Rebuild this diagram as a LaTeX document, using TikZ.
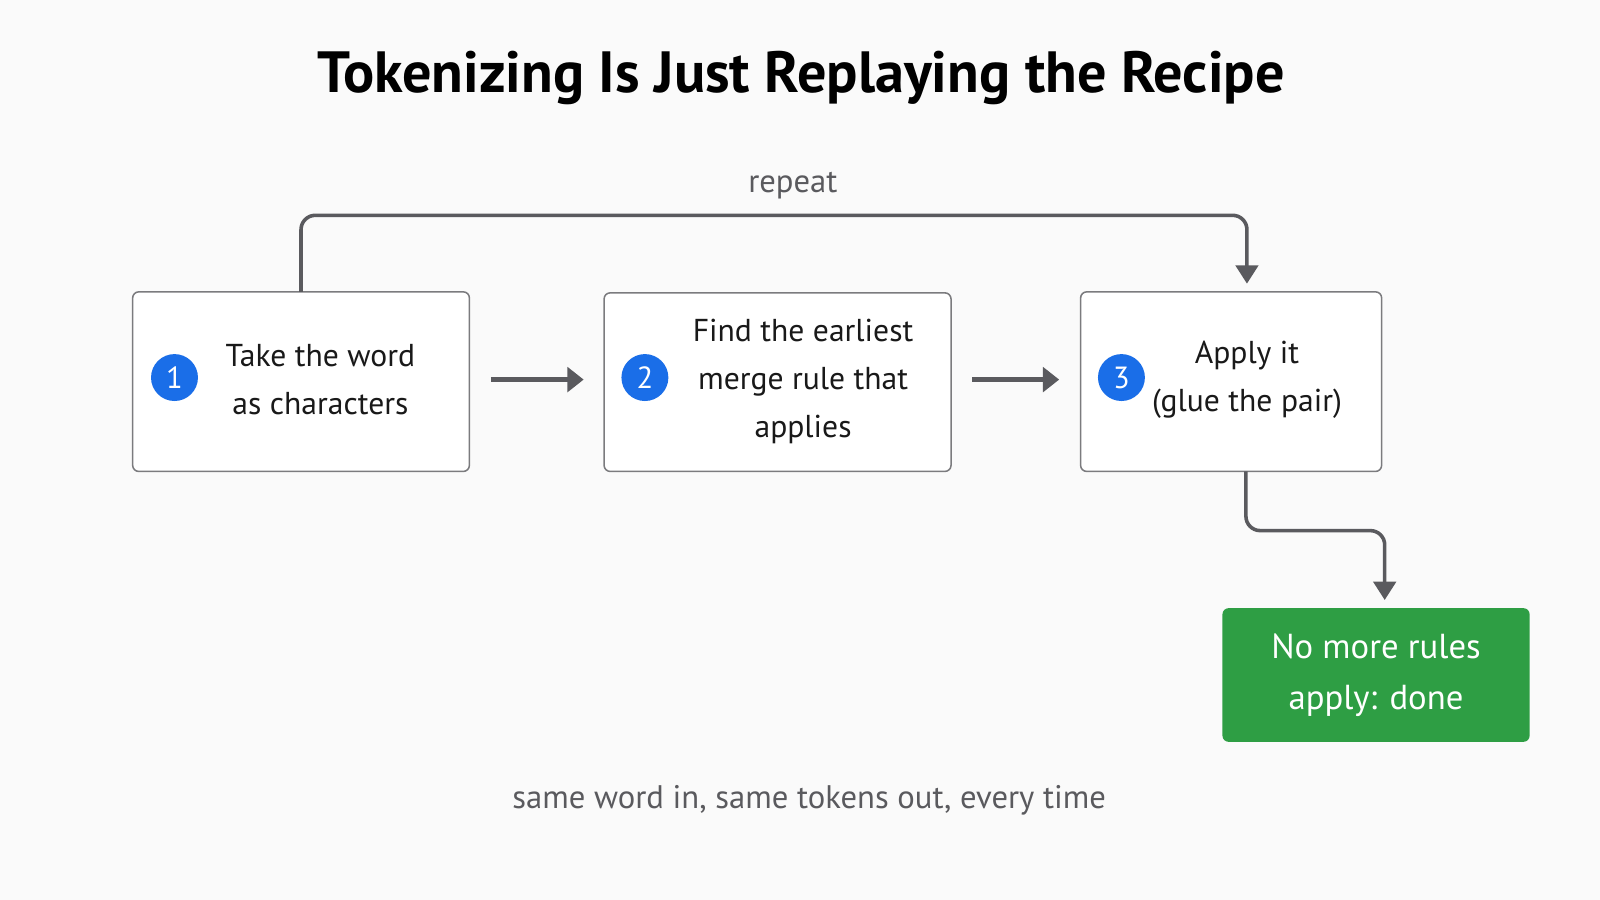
\documentclass[tikz,border=0pt]{standalone}
\usepackage{fontspec}
\setmainfont{PT Sans}
\usetikzlibrary{arrows.meta}
\definecolor{ln}{HTML}{5A5A5E}
\definecolor{bl}{HTML}{1A6EE8}
\definecolor{gr}{HTML}{2E9E44}
\begin{document}
\begin{tikzpicture}[x=1pt,y=-1pt,
 box/.style={draw=ln!80,line width=1.5pt,rounded corners=6pt,fill=white},
 txt/.style={align=center,font=\fontsize{31}{47}\selectfont,text=black!90},
 num/.style={circle,fill=bl,minimum size=46pt,inner sep=0pt,text=white,font=\fontsize{30}{30}\selectfont},
 arr/.style={draw=ln,line width=5pt,-{Triangle[length=16pt,width=24pt]}},
 loop/.style={draw=ln,line width=3.5pt,rounded corners=14pt,-{Triangle[length=18pt,width=22pt]}}]
\fill[white!98!black] (0,0) rectangle (1568,882);
\useasboundingbox (0,0) rectangle (1568,882);
\node[font=\bfseries\fontsize{57}{57}\selectfont] (title) at (785,76) {Tokenizing Is Just Replaying the Recipe};
\draw[box] (130,286) rectangle (460,462);
\draw[box] (592,287) rectangle (932,462);
\draw[box] (1059,286) rectangle (1354,462);
\node[fill=gr,rounded corners=6pt,minimum width=301pt,minimum height=131pt,text=white,align=center,font=\fontsize{34}{50}\selectfont] (g) at (1348.5,661.5) {No more rules\\apply: done};
\node[num] (n1) at (171,370) {1};
\node[num] (n2) at (632,370) {2};
\node[num] (n3) at (1099,370) {3};
\node[txt] (t1) at (314,372) {Take the word\\as characters};
\node[txt] (t2) at (787,374) {Find the earliest\\merge rule that\\applies};
\node[txt] (t3) at (1222,372) {Apply it\\(glue the pair)};
\coordinate (a1s) at (481,372); \coordinate (a1e) at (572,372);
\coordinate (a2s) at (953,372); \coordinate (a2e) at (1038,372);
\draw[arr] (a1s) -- (a1e);
\draw[arr] (a2s) -- (a2e);
\coordinate (r0) at (295,286); \coordinate (r1) at (1222,278);
\draw[loop] (r0) -- (295,211) -- (1222,211) -- (r1);
\node[font=\fontsize{32}{32}\selectfont,text=ln] (rep) at (777,182) {repeat};
\coordinate (d0) at (1221,462); \coordinate (d1) at (1357,588);
\draw[loop] (d0) -- (1221,520) -- (1357,520) -- (d1);
\node[font=\fontsize{32}{32}\selectfont,text=ln] (foot) at (793,784) {same word in, same tokens out, every time};
\end{tikzpicture}
\end{document}
